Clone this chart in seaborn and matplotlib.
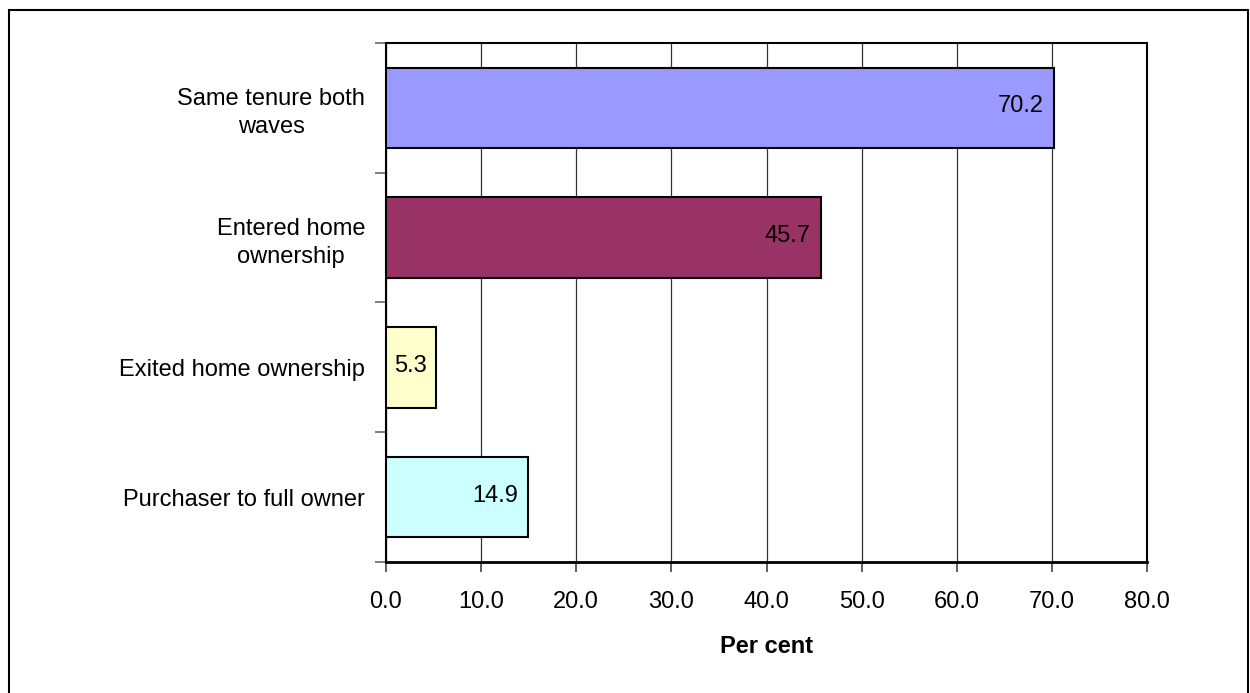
import matplotlib
matplotlib.use("Agg")
import matplotlib.pyplot as plt
import seaborn as sns
from matplotlib.patches import Rectangle

# Data
categories = ["Same tenure both\nwaves", "Entered home\nownership",
              "Exited home ownership", "Purchaser to full owner"]
values = [70.2, 45.7, 5.3, 14.9]
bar_colors = ["#9999FF", "#993366", "#FFFFCC", "#CCFFFF"]
x_ticks = [0, 10, 20, 30, 40, 50, 60, 70, 80]

sns.set_style("white")
plt.rcParams["font.family"] = ["Liberation Sans", "DejaVu Sans"]
plt.rcParams["text.color"] = "black"
plt.rcParams["xtick.labelcolor"] = "black"
plt.rcParams["ytick.labelcolor"] = "black"
plt.rcParams["axes.labelcolor"] = "black"

fig = plt.figure(figsize=(12.5, 6.93), dpi=100)
ax = fig.add_axes([0.3088, 0.189, 0.6088, 0.749])

sns.barplot(x=values, y=categories, hue=categories, palette=bar_colors,
            legend=False, orient="h", width=0.62, edgecolor="black",
            linewidth=1.5, saturation=1, ax=ax, zorder=3)

# value labels inside the bar ends
for i, v in enumerate(values):
    ax.annotate(f"{v:.1f}", xy=(v, i), xytext=(-7, 1), textcoords="offset points",
                ha="right", va="center", fontsize=17, color="black", zorder=4)

ax.set_xlim(0, 80)
ax.set_ylim(len(categories) - 0.5, -0.5)
ax.set_xticks(x_ticks)
ax.set_xticklabels([f"{t:.1f}" for t in x_ticks], fontsize=17)
ax.xaxis.grid(True, color="#333333", linewidth=0.9, zorder=0)
ax.yaxis.grid(False)

# y ticks at category boundaries, labels at centres
ax.set_yticks([i - 0.5 for i in range(len(categories) + 1)])
ax.set_yticklabels([])
ax.set_yticks(range(len(categories)), minor=True)
ax.set_yticklabels(categories, minor=True, fontsize=17, ha="right",
                   multialignment="center", linespacing=1.35)
ax.tick_params(axis="y", which="minor", length=0, pad=15)
ax.tick_params(axis="y", which="major", length=8, width=1.2, color="#666666",
               direction="out", left=True)
ax.tick_params(axis="x", length=7, width=1.2, color="#444444", direction="out",
               bottom=True, pad=14)

for side in ["left", "right", "top", "bottom"]:
    ax.spines[side].set_visible(True)
    ax.spines[side].set_color("black")
ax.spines["left"].set_linewidth(1.5)
ax.spines["bottom"].set_linewidth(2)
ax.spines["top"].set_linewidth(1.5)
ax.spines["right"].set_linewidth(1.5)

ax.set_xlabel("Per cent", fontsize=17, fontweight="bold", labelpad=16)
ax.set_ylabel("")

# outer frame round the whole chart (bottom edge falls below the image)
fig.patches.append(Rectangle((0.0072, -0.05), 0.9912, 1.0356, transform=fig.transFigure,
                             fill=False, edgecolor="black", linewidth=1.5))

fig.savefig("out.png", dpi=100, facecolor="white")
